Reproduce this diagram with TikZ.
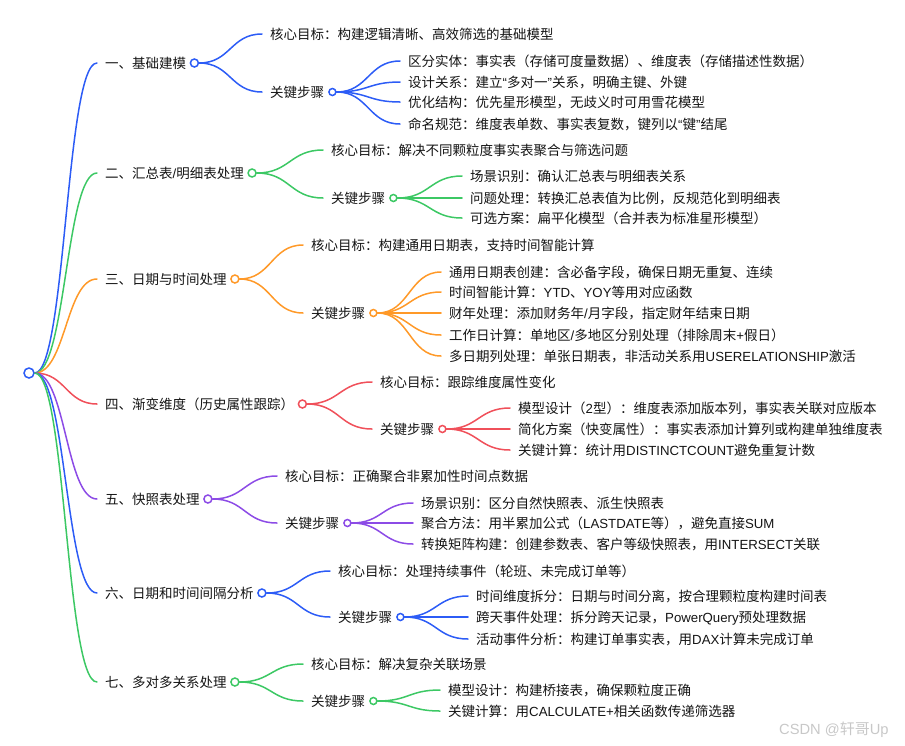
\documentclass[tikz,border=0pt]{standalone}
\usepackage{fontspec}
\setmainfont{Noto Sans CJK SC}
\newfontfamily\latfam{Liberation Sans}[Scale=0.98]
\usetikzlibrary{calc}
\definecolor{cB}{RGB}{44,92,246}
\definecolor{cG}{RGB}{60,200,100}
\definecolor{cO}{RGB}{255,153,40}
\definecolor{cR}{RGB}{240,80,90}
\definecolor{cP}{RGB}{140,75,230}
\definecolor{txt}{RGB}{20,20,20}
\definecolor{wmk}{RGB}{200,200,200}
\newcommand\mfs{\fontsize{13.5}{16}\selectfont}
\newcommand\lt[1]{{\latfam #1}}
\tikzset{
  lbl/.style={anchor=west, inner xsep=8pt, inner ysep=0pt, text height=11.7pt, text depth=1.6pt, font=\mfs, text=txt},
  dotA/.style={circle, draw=#1, fill=white, line width=1.5pt, minimum size=8pt, inner sep=0pt},
  dotB/.style={circle, draw=#1, fill=white, line width=1.5pt, minimum size=7pt, inner sep=0pt},
  dotR/.style={circle, draw=#1, fill=white, line width=1.5pt, minimum size=10pt, inner sep=0pt},
  branch/.style={draw=#1, line width=1.5pt, line cap=round,
    to path={let \p1=(\tikztostart), \p2=(\tikztotarget) in
      .. controls ({(\x1+\x2)/2},\y1) and ({(\x1+\x2)/2},\y2) .. (\tikztotarget)}}
}
\begin{document}
\begin{tikzpicture}[x=1pt,y=-1pt]
\useasboundingbox (0,0) rectangle (905,745);
% root
\node[dotR=cB] (root) at (29,373) {};
% level 1
\node[lbl] (a1) at (97,63) {一、基础建模};
\node[lbl] (a2) at (97,173) {二、汇总表\lt{/}明细表处理};
\node[lbl] (a3) at (97,279) {三、日期与时间处理};
\node[lbl] (a4) at (97,404) {四、渐变维度（历史属性跟踪）};
\node[lbl] (a5) at (97,499) {五、快照表处理};
\node[lbl] (a6) at (97,593) {六、日期和时间间隔分析};
\node[lbl] (a7) at (97,682) {七、多对多关系处理};
\node[dotA=cB] (o1) at (a1.east) {};
\node[dotA=cG] (o2) at (a2.east) {};
\node[dotA=cO] (o3) at (a3.east) {};
\node[dotA=cR] (o4) at (a4.east) {};
\node[dotA=cP] (o5) at (a5.east) {};
\node[dotA=cB] (o6) at (a6.east) {};
\node[dotA=cG] (o7) at (a7.east) {};
% level 2
\node[lbl] (k1) at (262,34) {核心目标：构建逻辑清晰、高效筛选的基础模型};
\node[lbl] (s1) at (262,92) {关键步骤};
\node[lbl] (k2) at (323,150) {核心目标：解决不同颗粒度事实表聚合与筛选问题};
\node[lbl] (s2) at (323,198) {关键步骤};
\node[lbl] (k3) at (303,245) {核心目标：构建通用日期表，支持时间智能计算};
\node[lbl] (s3) at (303,313) {关键步骤};
\node[lbl] (k4) at (372,382) {核心目标：跟踪维度属性变化};
\node[lbl] (s4) at (372,429) {关键步骤};
\node[lbl] (k5) at (277,476) {核心目标：正确聚合非累加性时间点数据};
\node[lbl] (s5) at (277,523) {关键步骤};
\node[lbl] (k6) at (330,571) {核心目标：处理持续事件（轮班、未完成订单等）};
\node[lbl] (s6) at (330,617) {关键步骤};
\node[lbl] (k7) at (303,664) {核心目标：解决复杂关联场景};
\node[lbl] (s7) at (303,701) {关键步骤};
\node[dotB=cB] (p1) at (s1.east) {};
\node[dotB=cG] (p2) at (s2.east) {};
\node[dotB=cO] (p3) at (s3.east) {};
\node[dotB=cR] (p4) at (s4.east) {};
\node[dotB=cP] (p5) at (s5.east) {};
\node[dotB=cB] (p6) at (s6.east) {};
\node[dotB=cG] (p7) at (s7.east) {};
% level 3
\node[lbl] (d11) at (400,61) {区分实体：事实表（存储可度量数据）、维度表（存储描述性数据）};
\node[lbl] (d12) at (400,82) {设计关系：建立\lt{“}多对一\lt{”}关系，明确主键、外键};
\node[lbl] (d13) at (400,102) {优化结构：优先星形模型，无歧义时可用雪花模型};
\node[lbl] (d14) at (400,124) {命名规范：维度表单数、事实表复数，键列以\lt{“}键\lt{”}结尾};
\node[lbl] (d21) at (462,176) {场景识别：确认汇总表与明细表关系};
\node[lbl] (d22) at (462,198) {问题处理：转换汇总表值为比例，反规范化到明细表};
\node[lbl] (d23) at (462,218) {可选方案：扁平化模型（合并表为标准星形模型）};
\node[lbl] (d31) at (441,272) {通用日期表创建：含必备字段，确保日期无重复、连续};
\node[lbl] (d32) at (441,292) {时间智能计算：\lt{YTD}、\lt{YOY}等用对应函数};
\node[lbl] (d33) at (441,313) {财年处理：添加财务年\lt{/}月字段，指定财年结束日期};
\node[lbl] (d34) at (441,335) {工作日计算：单地区\lt{/}多地区分别处理（排除周末\lt{+}假日）};
\node[lbl] (d35) at (441,356) {多日期列处理：单张日期表，非活动关系用\lt{USERELATIONSHIP}激活};
\node[lbl] (d41) at (510,408) {模型设计（\lt{2}型）：维度表添加版本列，事实表关联对应版本};
\node[lbl] (d42) at (510,429) {简化方案（快变属性）：事实表添加计算列或构建单独维度表};
\node[lbl] (d43) at (510,450) {关键计算：统计用\lt{DISTINCTCOUNT}避免重复计数};
\node[lbl] (d51) at (413,503) {场景识别：区分自然快照表、派生快照表};
\node[lbl] (d52) at (413,523) {聚合方法：用半累加公式（\lt{LASTDATE}等），避免直接\lt{SUM}};
\node[lbl] (d53) at (413,544) {转换矩阵构建：创建参数表、客户等级快照表，用\lt{INTERSECT}关联};
\node[lbl] (d61) at (468,596) {时间维度拆分：日期与时间分离，按合理颗粒度构建时间表};
\node[lbl] (d62) at (468,617) {跨天事件处理：拆分跨天记录，\lt{PowerQuery}预处理数据};
\node[lbl] (d63) at (468,639) {活动事件分析：构建订单事实表，用\lt{DAX}计算未完成订单};
\node[lbl] (d71) at (440,690) {模型设计：构建桥接表，确保颗粒度正确};
\node[lbl] (d72) at (440,711) {关键计算：用\lt{CALCULATE+}相关函数传递筛选器};
% watermark
\node[anchor=west, inner sep=0pt, text=wmk, font=\fontsize{15}{18}\selectfont] (wm) at (779,730) {\lt{CSDN @}轩哥\lt{Up}};
% connectors root -> level 1
\draw[branch=cB] (root.east) to (a1.west);
\draw[branch=cG] (root.east) to (a2.west);
\draw[branch=cO] (root.east) to (a3.west);
\draw[branch=cR] (root.east) to (a4.west);
\draw[branch=cP] (root.east) to (a5.west);
\draw[branch=cB] (root.east) to (a6.west);
\draw[branch=cG] (root.east) to (a7.west);
% level 1 -> level 2
\draw[branch=cB] (o1.east) to (k1.west);
\draw[branch=cB] (o1.east) to (s1.west);
\draw[branch=cG] (o2.east) to (k2.west);
\draw[branch=cG] (o2.east) to (s2.west);
\draw[branch=cO] (o3.east) to (k3.west);
\draw[branch=cO] (o3.east) to (s3.west);
\draw[branch=cR] (o4.east) to (k4.west);
\draw[branch=cR] (o4.east) to (s4.west);
\draw[branch=cP] (o5.east) to (k5.west);
\draw[branch=cP] (o5.east) to (s5.west);
\draw[branch=cB] (o6.east) to (k6.west);
\draw[branch=cB] (o6.east) to (s6.west);
\draw[branch=cG] (o7.east) to (k7.west);
\draw[branch=cG] (o7.east) to (s7.west);
% level 2 -> level 3
\foreach \i in {1,2,3,4} \draw[branch=cB] (p1.east) to (d1\i.west);
\foreach \i in {1,2,3} \draw[branch=cG] (p2.east) to (d2\i.west);
\foreach \i in {1,2,3,4,5} \draw[branch=cO] (p3.east) to (d3\i.west);
\foreach \i in {1,2,3} \draw[branch=cR] (p4.east) to (d4\i.west);
\foreach \i in {1,2,3} \draw[branch=cP] (p5.east) to (d5\i.west);
\foreach \i in {1,2,3} \draw[branch=cB] (p6.east) to (d6\i.west);
\foreach \i in {1,2} \draw[branch=cG] (p7.east) to (d7\i.west);
\end{tikzpicture}
\end{document}
